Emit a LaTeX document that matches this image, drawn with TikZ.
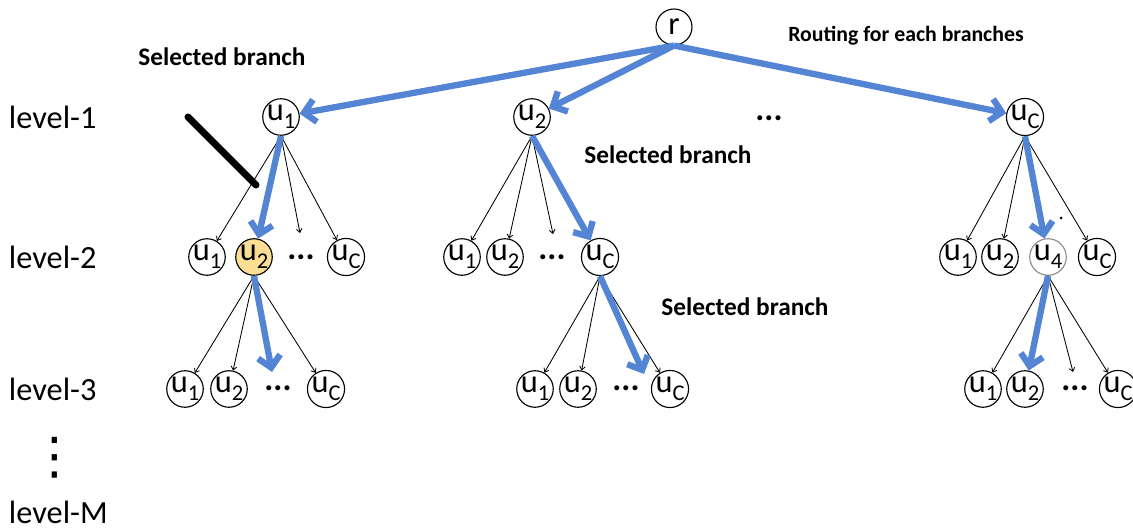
\documentclass[tikz,border=0pt]{standalone}
\usepackage{fontspec}
\setmainfont{Carlito}
\newfontfamily\symfont{DejaVu Sans}
\usetikzlibrary{arrows.meta}

\definecolor{routeblue}{RGB}{84,132,212}
\definecolor{pickfill}{RGB}{250,222,148}

% letter with lowered index, as in the circles
\newcommand{\usub}[2]{#1\raisebox{-0.5ex}{\fontsize{16}{16}\selectfont #2}}

\begin{document}
\begin{tikzpicture}[x=0.025cm, y=-0.025cm,
  unit/.style={draw, circle, line width=0.8pt, minimum size=25.6pt, inner sep=0pt,
    font=\fontsize{23}{23}\selectfont},
  pick/.style={unit, fill=pickfill},
  more/.style={inner sep=0pt, font=\bfseries\fontsize{24}{24}\selectfont},
  levtext/.style={anchor=west, font=\fontsize{23}{23}\selectfont},
  note/.style={font=\bfseries\fontsize{18}{18}\selectfont},
  child/.style={-{Straight Barb[length=2.5pt,width=4pt]}, line width=0.6pt},
  route/.style={routeblue, line width=4.5pt, -{Straight Barb[length=8pt,width=16pt]}}]

\useasboundingbox (0,0) rectangle (1133,531);

% Level labels
\node[levtext] (l1) at (4,117) {level-1};
\node[levtext] (l2) at (4,257) {level-2};
\node[levtext] (l3) at (4,389) {level-3};
\node[inner sep=0pt, font=\symfont\fontsize{36}{36}\selectfont] (lv) at (55,458) {⋮};
\node[levtext] (lm) at (4,512) {level-M};

% Root and level 1
\node[unit] (r) at (674,27) {r};
\node[unit] (a1) at (281,117) {\usub{u}{1}};
\node[unit] (a2) at (532,117) {\usub{u}{2}};
\node[more] (ad) at (769,118) {...};
\node[unit] (ac) at (1025,117) {\usub{u}{C}};

% Level 2
\node[unit] (b11) at (207,257) {\usub{u}{1}};
\node[pick] (b12) at (254,257) {\usub{u}{2}};
\node[more] (b1d) at (301,257) {...};
\node[unit] (b1c) at (346,257) {\usub{u}{C}};

\node[unit] (b21) at (462,257) {\usub{u}{1}};
\node[unit] (b22) at (505,257) {\usub{u}{2}};
\node[more] (b2d) at (552,257) {...};
\node[unit] (b2c) at (600,257) {\usub{u}{C}};

\node[unit] (b31) at (958,257) {\usub{u}{1}};
\node[unit] (b32) at (1000,257) {\usub{u}{2}};
\node[unit, draw=black!45] (b34) at (1048,257) {\usub{u}{4}};
\node[unit] (b3c) at (1097,257) {\usub{u}{C}};

% Level 3
\node[unit] (c11) at (185,389) {\usub{u}{1}};
\node[unit] (c12) at (229,389) {\usub{u}{2}};
\node[more] (c1d) at (278,388) {...};
\node[unit] (c1c) at (326,389) {\usub{u}{C}};

\node[unit] (c21) at (535,389) {\usub{u}{1}};
\node[unit] (c22) at (578,389) {\usub{u}{2}};
\node[more] (c2d) at (626,388) {...};
\node[unit] (c2c) at (670,389) {\usub{u}{C}};

\node[unit] (c31) at (983,389) {\usub{u}{1}};
\node[unit] (c32) at (1025,389) {\usub{u}{2}};
\node[more] (c3d) at (1075,388) {...};
\node[unit] (c3c) at (1118,389) {\usub{u}{C}};

% Free ends
\coordinate (t1) at (300,233);
\coordinate (t2) at (553,234);
\coordinate (s1) at (272,372);
\coordinate (s2) at (644,374);
\coordinate (s3) at (1073,372);

% Children (thin)
\foreach \a/\b in {a1/b11, a1/t1, a1/b1c, a2/b21, a2/b22, a2/t2,
                   ac/b31, ac/b32, ac/b3c, b12/c11, b12/c12, b12/c1c,
                   b2c/c21, b2c/c22, b2c/c2c, b34/c31, b34/s3, b34/c3c}
  \draw[child] (\a.south) -- (\b);

% Routes (blue)
\foreach \a/\b in {r/a1, r/a2, r/ac, a1/b12, a2/b2c, ac/b34, b12/s1, b2c/s2, b34/c32}
  \draw[route] (\a.south) -- (\b);

% Stroke mark and stray dot
\coordinate (m1) at (188,117);
\coordinate (m2) at (256,185);
\draw[line width=5pt, line cap=round] (m1) -- (m2);
\fill (1061,218) circle (1.5);

% Notes
\node[note] (n1) at (222,57) {Selected branch};
\node[note] (n2) at (668,155) {Selected branch};
\node[note] (n3) at (745,307) {Selected branch};
\node[note, font=\bfseries\fontsize{15.5}{15.5}\selectfont] (n4) at (906,36) {Routing for each branches};

\end{tikzpicture}
\end{document}
